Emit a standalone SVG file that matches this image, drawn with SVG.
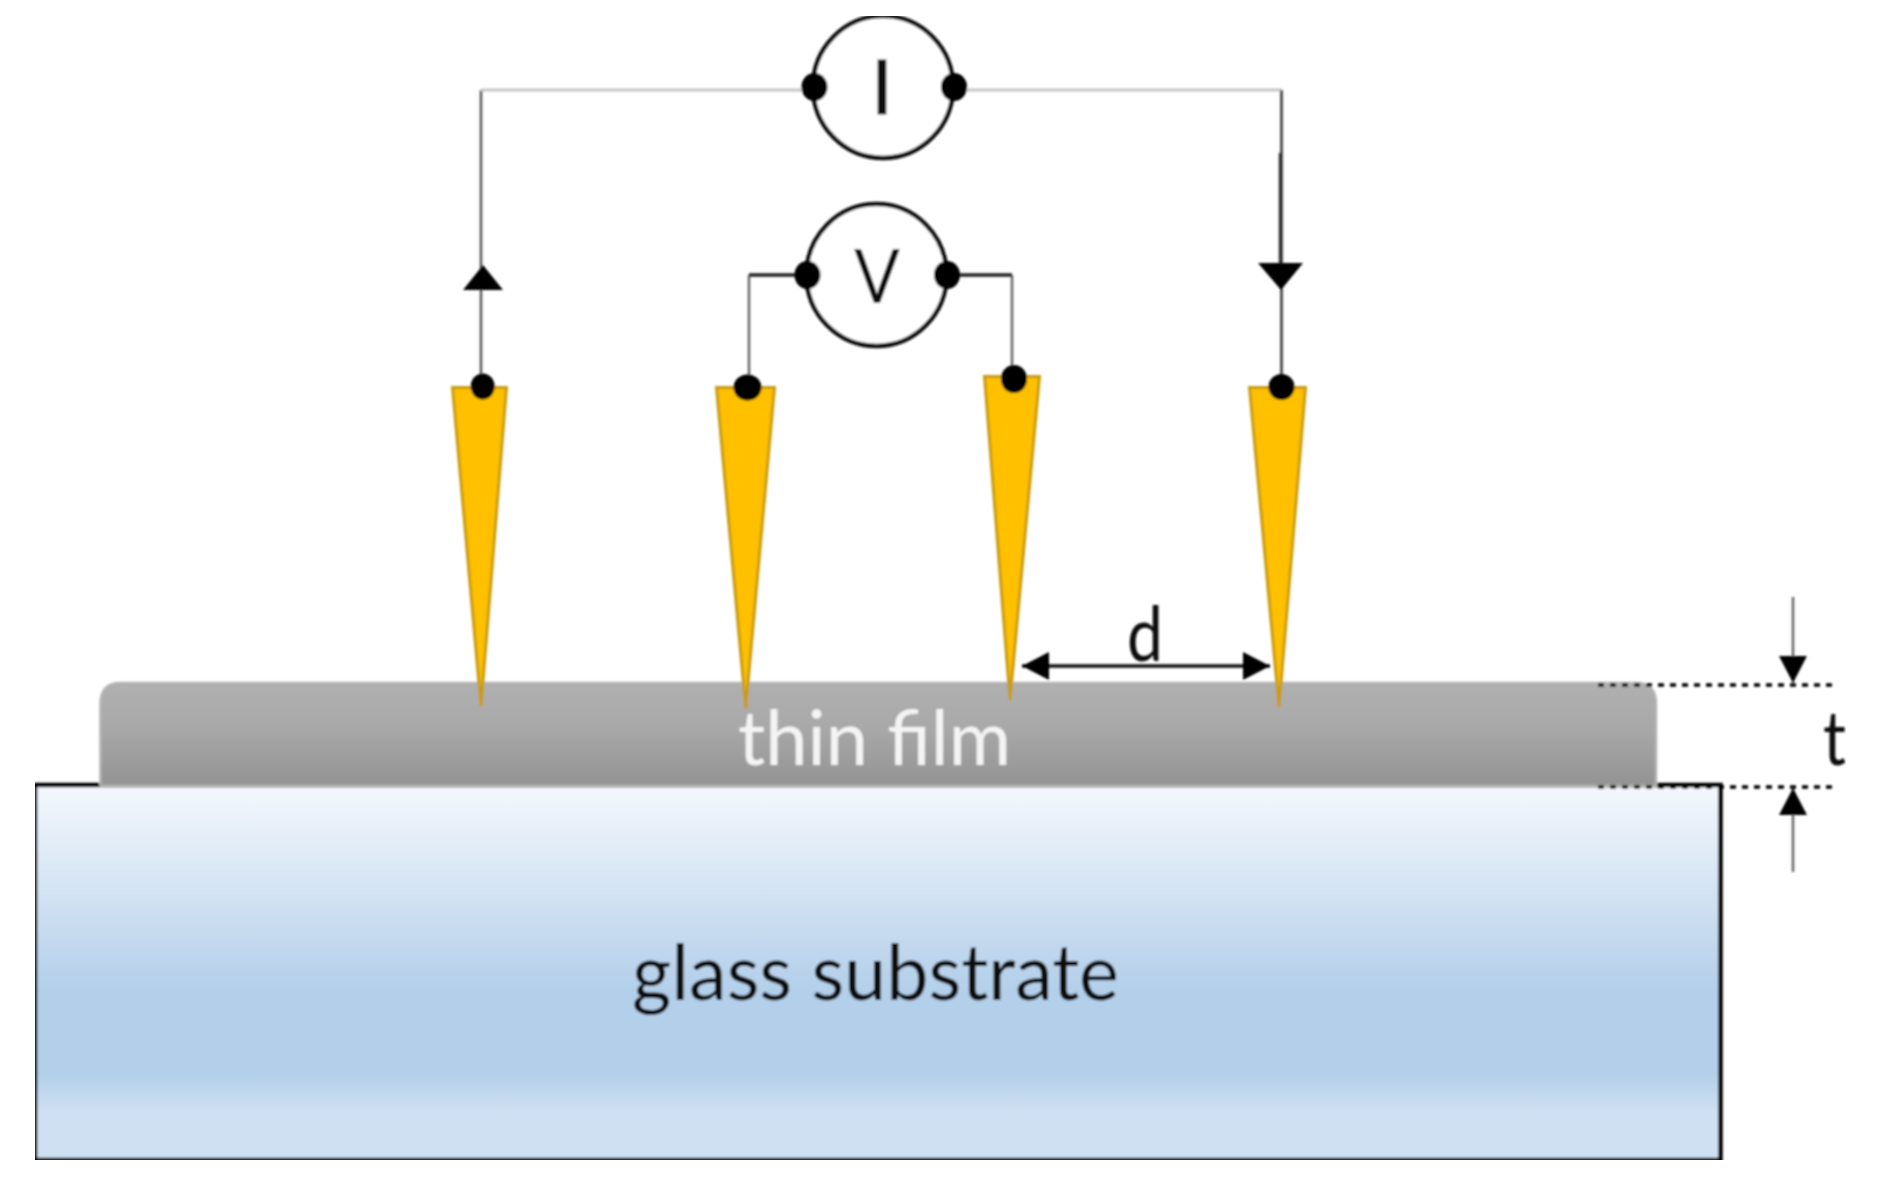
<svg xmlns="http://www.w3.org/2000/svg" width="1886" height="1187" viewBox="0 0 1886 1187">
<style>
.lbl{font-family:"Lato","Open Sans","Liberation Sans",sans-serif;font-size:76px;fill:#111}
.meter{fill:#fff;stroke:#111;stroke-width:4.5}
.dot{fill:#000}
.tip{fill:#ffc000;stroke:#c99b12;stroke-width:3}
.wire{fill:none;stroke-width:2.5}
</style>
<defs>
<linearGradient id="glass" x1="0" y1="0" x2="0" y2="1">
<stop offset="0" stop-color="#f5f8fd"/><stop offset="0.55" stop-color="#b3cfea"/><stop offset="0.77" stop-color="#b3cfea"/><stop offset="0.87" stop-color="#cee0f1"/><stop offset="1" stop-color="#cee0f1"/>
</linearGradient>
<linearGradient id="film" x1="0" y1="0" x2="0" y2="1">
<stop offset="0" stop-color="#b0b0b0"/><stop offset="0.45" stop-color="#a8a8a8"/><stop offset="1" stop-color="#939393"/>
</linearGradient>
<marker id="headSmall" viewBox="0 0 27 28" refX="27" refY="14" markerWidth="27" markerHeight="28" markerUnits="userSpaceOnUse" orient="auto-start-reverse"><path d="M0 0L27 14L0 28Z" fill="#000"/></marker>
<filter id="soft" x="0" y="0" width="1" height="1" filterUnits="objectBoundingBox"><feGaussianBlur stdDeviation="0.8"/></filter>
</defs>
<rect width="1886" height="1187" fill="#fff"/>
<g filter="url(#soft)">
<g id="substrate">
<rect x="35" y="785" width="1685.5" height="375" fill="url(#glass)" stroke="#000" stroke-width="4.5"/>
<text class="lbl" x="632" y="1000" textLength="487" lengthAdjust="spacingAndGlyphs" style="font-size:78px">glass substrate</text>
</g>
<g id="film-layer">
<path d="M100.5 786V704Q100.5 683 120 683H1637Q1656 683 1656 704V786Z" fill="url(#film)" stroke="#b4b4b4" stroke-width="2.5"/>
<text class="lbl" x="738" y="765" textLength="273" lengthAdjust="spacingAndGlyphs" style="fill:#f4f4f4">thin film</text>
</g>
<g id="connectors">
<path class="wire" d="M481 385V90" stroke="#555"/>
<path class="wire" d="M481 90H814" stroke="#c4c4c4" style="stroke-width:3"/>
<path class="wire" d="M954 90H1281.5" stroke="#c4c4c4" style="stroke-width:3"/>
<path class="wire" d="M1281.5 90V385" stroke="#333"/>
<path class="wire" d="M1280.5 153V263" stroke="#333" style="stroke-width:3.5"/>
<path class="wire" d="M749 377V275" stroke="#666"/>
<path class="wire" d="M749 275H808" stroke="#222" style="stroke-width:3.5"/>
<path class="wire" d="M1012 367V275" stroke="#666"/>
<path class="wire" d="M947 275H1012" stroke="#222" style="stroke-width:3.5"/>
<path d="M483 265L503 290H463Z" fill="#000"/>
<path d="M1258 263H1303L1281 290Z" fill="#000"/>
<path d="M1022 666H1270" stroke="#111" fill="none" marker-start="url(#headSmall)" marker-end="url(#headSmall)" style="stroke-width:3.5"/>
<path d="M1793 597V683" stroke="#666" stroke-width="2.5" fill="none" marker-end="url(#headSmall)"/>
<path d="M1793 872V788" stroke="#666" stroke-width="2.5" fill="none" marker-end="url(#headSmall)"/>
<path d="M1598 685H1834M1598 787H1834" stroke="#000" stroke-width="3.5" stroke-dasharray="6 6" fill="none"/>
</g>
<g id="meter-I">
<ellipse class="meter" cx="883" cy="87" rx="70" ry="71"/>
<ellipse class="dot" cx="814.5" cy="87" rx="13" ry="14"/>
<ellipse class="dot" cx="954" cy="87" rx="13" ry="14"/>
<text class="lbl" x="882" y="114" text-anchor="middle" textLength="22" lengthAdjust="spacingAndGlyphs" style="stroke:#111;stroke-width:1">I</text>
</g>
<g id="meter-V">
<ellipse class="meter" cx="876.5" cy="275" rx="70" ry="71"/>
<ellipse class="dot" cx="807.5" cy="275" rx="13" ry="14"/>
<ellipse class="dot" cx="947" cy="275" rx="13" ry="14"/>
<text class="lbl" x="877" y="303" text-anchor="middle" textLength="46" lengthAdjust="spacingAndGlyphs">V</text>
</g>
<g id="probe-1"><path class="tip" d="M452.5 387.5H506.5L481 706Z"/><ellipse class="dot" cx="482.7" cy="386.5" rx="12" ry="13"/></g>
<g id="probe-2"><path class="tip" d="M716.5 387.5H774.5L745.7 708Z"/><ellipse class="dot" cx="747.5" cy="387.5" rx="14" ry="13"/></g>
<g id="probe-3"><path class="tip" d="M984.5 376.5H1039.5L1010 700Z"/><ellipse class="dot" cx="1014" cy="379" rx="13" ry="14"/></g>
<g id="probe-4"><path class="tip" d="M1249.5 387.5H1305.5L1279 707Z"/><ellipse class="dot" cx="1281.5" cy="387" rx="13" ry="13"/></g>
<g id="labels">
<text class="lbl" x="1127" y="661" textLength="36" lengthAdjust="spacingAndGlyphs">d</text>
<text class="lbl" x="1823" y="765" textLength="23" lengthAdjust="spacingAndGlyphs">t</text>
</g>
</g>
</svg>
